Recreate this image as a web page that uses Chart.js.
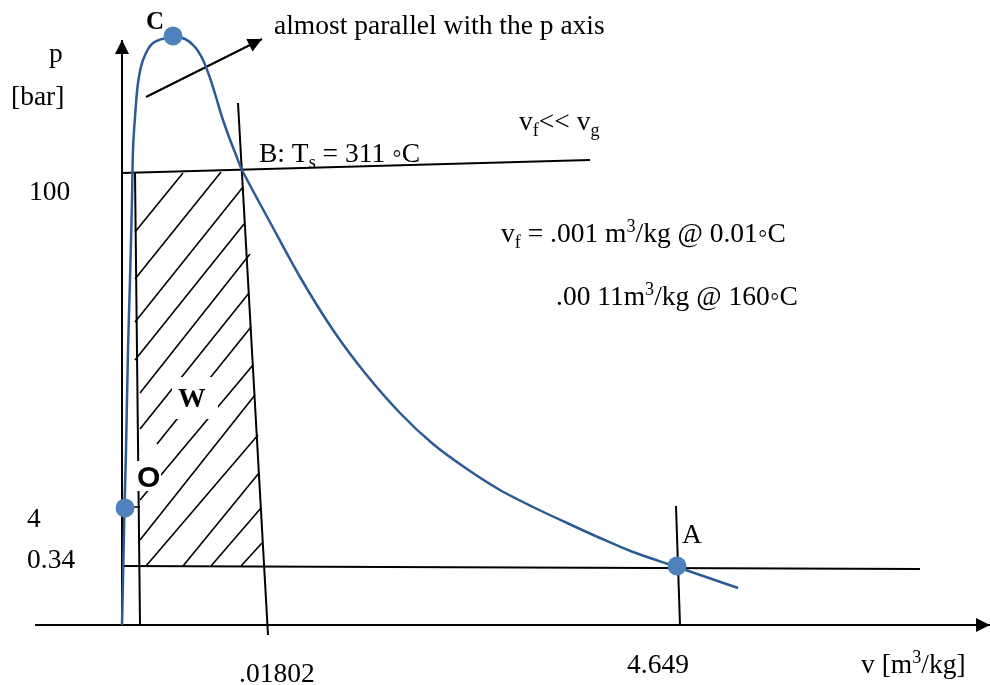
<!DOCTYPE html>
<html>
<head>
<meta charset="utf-8">
<script src="https://cdn.jsdelivr.net/npm/chart.js@4.4.0/dist/chart.umd.min.js"></script>
<style>
  html, body { margin: 0; padding: 0; background: #fff; }
  canvas { display: block; }
</style>
</head>
<body>
<canvas id="pvChart" width="990" height="685"></canvas>
<script>
// p-v sketch, schematic units with the origin at the axes corner
const domeV = [0, 1, 2.5, 4, 6, 8, 10, 11, 13, 16, 21, 31, 51, 63, 73, 81, 88, 94, 100, 107, 114, 120, 149, 178, 211, 243, 278, 311, 345, 378, 411, 445, 478, 511, 555, 616];
const domeP = [0, 45, 117, 175, 275, 345, 425, 475, 508, 542, 565, 582, 588, 586, 578, 565, 547, 528, 508, 488, 470, 455, 401, 348, 295, 252, 212, 181, 156, 135, 118, 102, 87, 73, 58, 37];

// marked states: 4 bar, C (critical), A
const stateV = [3, 51, 555];
const stateP = [117, 589, 59];

// straight construction lines [v0, p0, v1, p1]
const liquidLine = [13, 453, 18, 0];
const isobarB = [0, 452, 468, 465];
const verticalB = [116, 522, 146, -10];
const isobarA = [0, 59, 798, 56];
const verticalA = [554, 119, 558, 0];
const tick4 = [11, 118, 18, 118];
const noteArrow = [24, 528, 140, 586];
const pAxis = [0, 0, 0, 585];
const vAxis = [-87, 0, 868, 0];

// hatching of the work area W
const hatchV0 = [13, 13, 13, 13, 18, 18, 35, 18, 18, 24, 61, 89, 119];
const hatchP0 = [393, 346, 303, 265, 232, 196, 181, 125, 85, 59, 59, 59, 59];
const hatchV1 = [61, 99, 121, 122, 128, 127, 129, 131, 133, 136, 137, 139, 140];
const hatchP1 = [452, 453, 438, 401, 371, 332, 298, 260, 230, 190, 152, 117, 82];

const pTickLabels = ['100', '4', '0.34'];
const vTickLabels = ['.01802', '4.649'];

const seg = (s) => [{ x: s[0], y: s[1] }, { x: s[2], y: s[3] }];
const lineSet = (s, width, extra) => Object.assign({
  data: seg(s), showLine: true, borderColor: '#000', borderWidth: width,
  pointRadius: 0, fill: false, order: 2
}, extra || {});

const datasets = [
  {
    data: stateV.map((v, i) => ({ x: v, y: stateP[i] })),
    showLine: false, pointRadius: 9.5, pointHoverRadius: 9.5,
    backgroundColor: '#4f81bd', borderWidth: 0, order: 0
  },
  {
    data: domeV.map((v, i) => ({ x: v, y: domeP[i] })),
    showLine: true, borderColor: '#2c5a96', borderWidth: 2.5,
    pointRadius: 0, tension: 0.3, fill: false, order: 1
  },
  lineSet(pAxis, 2, { arrow: true }),
  lineSet(vAxis, 2, { arrow: true }),
  lineSet(noteArrow, 2, { arrow: true }),
  lineSet(liquidLine, 2),
  lineSet(isobarB, 2),
  lineSet(verticalB, 2),
  lineSet(isobarA, 2),
  lineSet(verticalA, 2),
  lineSet(tick4, 1.5)
];
hatchV0.forEach((v, i) => {
  datasets.push(lineSet([v, hatchP0[i], hatchV1[i], hatchP1[i]], 1.6, { order: 3 }));
});

const serif = '"Liberation Serif", "Times New Roman", serif';
const sans = '"Liberation Sans", Arial, sans-serif';

function drawRuns(ctx, runs, px, py, size, weight, family) {
  let cx = px;
  runs.forEach(r => {
    const kind = r[1] || '';
    const sz = kind ? size * 0.66 : size;
    const dy = kind === 'sub' ? size * 0.22 : (kind === 'sup' ? -size * 0.36 : 0);
    ctx.font = weight + ' ' + sz + 'px ' + family;
    ctx.fillText(r[0], cx, py + dy);
    cx += ctx.measureText(r[0]).width;
  });
  return cx - px;
}

const sketchText = {
  id: 'sketchText',
  afterDatasetsDraw(chart, args, opts) {
    const { ctx } = chart;
    const sx = chart.scales.x, sy = chart.scales.y;
    ctx.save();
    // arrow heads
    chart.data.datasets.forEach(ds => {
      if (!ds.arrow) return;
      const a = ds.data[ds.data.length - 2], b = ds.data[ds.data.length - 1];
      const x0 = sx.getPixelForValue(a.x), y0 = sy.getPixelForValue(a.y);
      const x1 = sx.getPixelForValue(b.x), y1 = sy.getPixelForValue(b.y);
      const ang = Math.atan2(y1 - y0, x1 - x0);
      const len = 14, half = 7;
      ctx.fillStyle = '#000';
      ctx.beginPath();
      ctx.moveTo(x1, y1);
      ctx.lineTo(x1 - len * Math.cos(ang) + half * Math.sin(ang), y1 - len * Math.sin(ang) - half * Math.cos(ang));
      ctx.lineTo(x1 - len * Math.cos(ang) - half * Math.sin(ang), y1 - len * Math.sin(ang) + half * Math.cos(ang));
      ctx.closePath();
      ctx.fill();
    });
    // labels
    ctx.textAlign = 'left';
    ctx.textBaseline = 'alphabetic';
    opts.labels.forEach(l => {
      const px = sx.getPixelForValue(l.at[0]), py = sy.getPixelForValue(l.at[1]);
      const size = l.size || 27.5;
      const weight = l.bold ? 'bold' : 'normal';
      const family = l.sans ? sans : serif;
      if (l.box) {
        ctx.fillStyle = '#fff';
        ctx.fillRect(px + l.box[0], py + l.box[1], l.box[2], l.box[3]);
      }
      ctx.fillStyle = '#000';
      drawRuns(ctx, l.runs, px, py, size, weight, family);
    });
    ctx.restore();
  }
};

const labels = [
  { at: [-73, 563], runs: [['p']] },
  { at: [-111, 520], runs: [['[bar]']] },
  { at: [24, 596], runs: [['C']], bold: true, size: 25 },
  { at: [152, 591], runs: [['almost parallel with the p axis']] },
  { at: [137, 463], runs: [['B: T'], ['s', 'sub'], [' = 311 \u25E6C']] },
  { at: [397, 495], runs: [['v'], ['f', 'sub'], ['<< v'], ['g', 'sub']] },
  { at: [379, 383], runs: [['v'], ['f', 'sub'], [' = .001 m'], ['3', 'sup'], ['/kg @ 0.01\u25E6C']] },
  { at: [434, 320], runs: [['.00 11m'], ['3', 'sup'], ['/kg @ 160\u25E6C']] },
  { at: [56, 218], runs: [['W']], bold: true, box: [-6, -30, 46, 42] },
  { at: [15, 138], runs: [['O']], bold: true, sans: true, size: 30, box: [-2, -26, 26, 30] },
  { at: [560, 82], runs: [['A']] },
  { at: [739, -48], runs: [['v [m'], ['3', 'sup'], ['/kg]']] },
  { at: [-93, 425], runs: [[pTickLabels[0]]] },
  { at: [-95, 98], runs: [[pTickLabels[1]]] },
  { at: [-95, 57], runs: [[pTickLabels[2]]] },
  { at: [117, -57], runs: [[vTickLabels[0]]] },
  { at: [505, -48], runs: [[vTickLabels[1]]] }
];

new Chart(document.getElementById('pvChart').getContext('2d'), {
  type: 'scatter',
  data: { datasets: datasets },
  options: {
    responsive: false,
    animation: false,
    layout: { padding: 0, autoPadding: false },
    scales: {
      x: { type: 'linear', min: -122, max: 868, display: false },
      y: { type: 'linear', min: -60, max: 625, display: false }
    },
    plugins: {
      legend: { display: false },
      tooltip: { enabled: false },
      sketchText: { labels: labels }
    }
  },
  plugins: [sketchText]
});
</script>
</body>
</html>
